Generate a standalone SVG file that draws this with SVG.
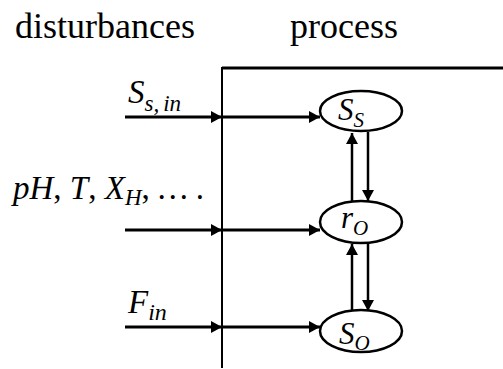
<svg xmlns="http://www.w3.org/2000/svg" width="503" height="369" viewBox="0 0 503 369">
<style>
.t{font-family:"Liberation Serif","Times New Roman",serif;fill:#000}
.it{font-style:italic}
.c{fill:none;stroke:#000}
.h{stroke-width:3}
.v{stroke-width:2.5}
.e{fill:#fff;stroke:#000;stroke-width:2.5}
</style>
<defs>
<marker id="ah" markerUnits="userSpaceOnUse" markerWidth="11" markerHeight="12" refX="11" refY="6" orient="auto">
<path d="M0,0 L11,6 L0,12 z" fill="#000"/>
</marker>
</defs>
<g id="headers">
<text class="t" x="15" y="38" font-size="36">disturbances</text>
<text class="t" x="290" y="38" font-size="36">process</text>
</g>
<g id="process-box">
<path class="c" d="M222,68 H503" stroke-width="3"/>
<path class="c" d="M222,67 V368" stroke-width="2"/>
</g>
<g id="connectors">
<path class="c h" d="M125,117 H222" marker-end="url(#ah)"/>
<path class="c h" d="M223,117 H320" marker-end="url(#ah)"/>
<path class="c h" d="M125,230 H222" marker-end="url(#ah)"/>
<path class="c h" d="M223,230 H320" marker-end="url(#ah)"/>
<path class="c h" d="M125,327 H222" marker-end="url(#ah)"/>
<path class="c h" d="M223,327 H320" marker-end="url(#ah)"/>
<path class="c v" d="M352,201 V133" marker-end="url(#ah)"/>
<path class="c v" d="M368,132 V201" marker-end="url(#ah)"/>
<path class="c v" d="M352,310 V244" marker-end="url(#ah)"/>
<path class="c v" d="M368,243 V311" marker-end="url(#ah)"/>
</g>
<g id="label-ssin">
<text class="t it" x="128" y="103" font-size="33">S<tspan font-size="23" dy="8">s,</tspan><tspan font-size="23" dx="4">in</tspan></text>
</g>
<g id="label-ph">
<text class="t it" x="13" y="199" font-size="33">pH<tspan font-style="normal">,</tspan> T<tspan font-style="normal">,</tspan> X<tspan font-size="23" dy="6">H</tspan><tspan font-style="normal" dy="-6" letter-spacing="6.5">,….</tspan></text>
</g>
<g id="label-fin">
<text class="t it" x="128" y="313" font-size="33">F<tspan font-size="24" dy="7">in</tspan></text>
</g>
<g id="node-SS">
<ellipse class="e" cx="361" cy="111" rx="41" ry="20"/>
<text class="t it" x="338" y="120" font-size="31">S<tspan font-size="21" dy="7">S</tspan></text>
</g>
<g id="node-rO">
<ellipse class="e" cx="361" cy="222" rx="41" ry="21"/>
<text class="t it" x="341" y="228" font-size="31">r<tspan font-size="21" dy="7">O</tspan></text>
</g>
<g id="node-SO">
<ellipse class="e" cx="361" cy="331" rx="41" ry="21"/>
<text class="t it" x="339" y="344" font-size="31">S<tspan font-size="21" dy="6">O</tspan></text>
</g>
</svg>
